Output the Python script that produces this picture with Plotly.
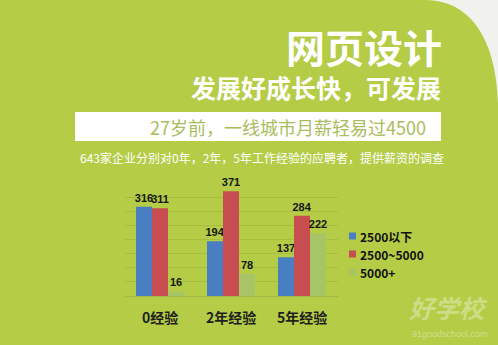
import plotly.graph_objects as go

# Salary survey: 643 companies, offers by experience level
categories = ["0经验", "2年经验", "5年经验"]
series_names = ["2500以下", "2500~5000", "5000+"]
below_2500 = [316, 194, 137]
mid_2500_5000 = [311, 371, 284]
above_5000 = [16, 78, 222]
series_values = [below_2500, mid_2500_5000, above_5000]
series_colors = ["#4a7ec2", "#c84d51", "#a7c466"]

W, H = 498, 345
BG = "#b4cc46"
CJK = "Noto Sans CJK SC"


def px(x):
    return x / W


def py(y):
    return 1 - y / H


fig = go.Figure()
for name, vals, col in zip(series_names, series_values, series_colors):
    fig.add_trace(go.Bar(
        x=categories, y=vals, name=name,
        marker=dict(color=col, line=dict(width=0)),
        text=[str(v) for v in vals], textposition="outside", constraintext="none",
        textfont=dict(family="Liberation Sans", size=11, color="#161616", weight="bold"),
        cliponaxis=False, showlegend=False,
    ))

shapes = [
    # light corner at top right, outside the rounded green panel
    dict(type="path", xref="paper", yref="paper",
         path=("M {0},{1} L {2},{1} L {2},{3} "
               "C {4},{5} {6},{1} {0},{1} Z").format(
             px(426), py(0), px(W), py(118), px(500), py(40), px(470), py(0)),
         fillcolor="#f1f1ee", line=dict(width=0), layer="below"),
    # white banner behind the headline figure
    dict(type="rect", xref="paper", yref="paper",
         x0=px(75), x1=px(441), y0=py(141), y1=py(112),
         fillcolor="white", line=dict(width=0), layer="below"),
]

annotations = [
    dict(text="网页设计", x=px(444), y=py(46), xanchor="right", yanchor="middle",
         font=dict(family=CJK, size=39, color="white", weight="bold")),
    dict(text="发展好成长快，可发展", x=px(443), y=py(87), xanchor="right", yanchor="middle",
         font=dict(family=CJK, size=25, color="white", weight="bold")),
    dict(text="27岁前，一线城市月薪轻易过4500", x=px(428), y=py(127), xanchor="right", yanchor="middle",
         font=dict(family=CJK, size=18, color="#a9bd5c")),
    dict(text="643家企业分别对0年，2年，5年工作经验的应聘者，提供薪资的调查",
         x=px(78), y=py(158), xanchor="left", yanchor="middle",
         font=dict(family=CJK, size=12, color="white")),
    # watermark
    dict(text="<i>好学校</i>", x=px(490), y=py(307), xanchor="right", yanchor="middle",
         font=dict(family=CJK, size=25, color="rgba(255,255,255,0.35)", weight="bold")),
    dict(text="91goodschool.com", x=px(490), y=py(334), xanchor="right", yanchor="middle",
         font=dict(family="Liberation Sans", size=9, color="rgba(255,255,255,0.4)")),
]

# legend: small square swatch + bold label for each series
for i, (name, col) in enumerate(zip(series_names, series_colors)):
    yc = 236 + 18 * i
    shapes.append(dict(type="rect", xref="paper", yref="paper",
                       x0=px(349), x1=px(356), y0=py(yc + 3.5), y1=py(yc - 3.5),
                       fillcolor=col, line=dict(width=0)))
    annotations.append(dict(text=name, x=px(358), y=py(yc), xanchor="left", yanchor="middle",
                            font=dict(family=CJK, size=12, color="#111111", weight="bold")))

for a in annotations:
    a.update(xref="paper", yref="paper", showarrow=False)

fig.update_layout(
    width=W, height=H,
    margin=dict(l=0, r=0, t=0, b=0),
    paper_bgcolor=BG, plot_bgcolor=BG,
    barmode="group", bargap=0.324, bargroupgap=0,
    showlegend=False,
    shapes=shapes, annotations=annotations,
    xaxis=dict(domain=[px(124.5), px(337.5)], showgrid=False, zeroline=False,
               showline=True, linecolor="#a2b944", linewidth=1,
               ticks="", ticklabelstandoff=9,
               tickfont=dict(family=CJK, size=14, color="#1e1e1e", weight="bold")),
    yaxis=dict(domain=[py(296), py(183)], range=[0, 400], dtick=50,
               showgrid=True, gridcolor="#a6bd3f", gridwidth=1,
               zeroline=False, showticklabels=False, ticks=""),
)

fig.write_html("out.html")
